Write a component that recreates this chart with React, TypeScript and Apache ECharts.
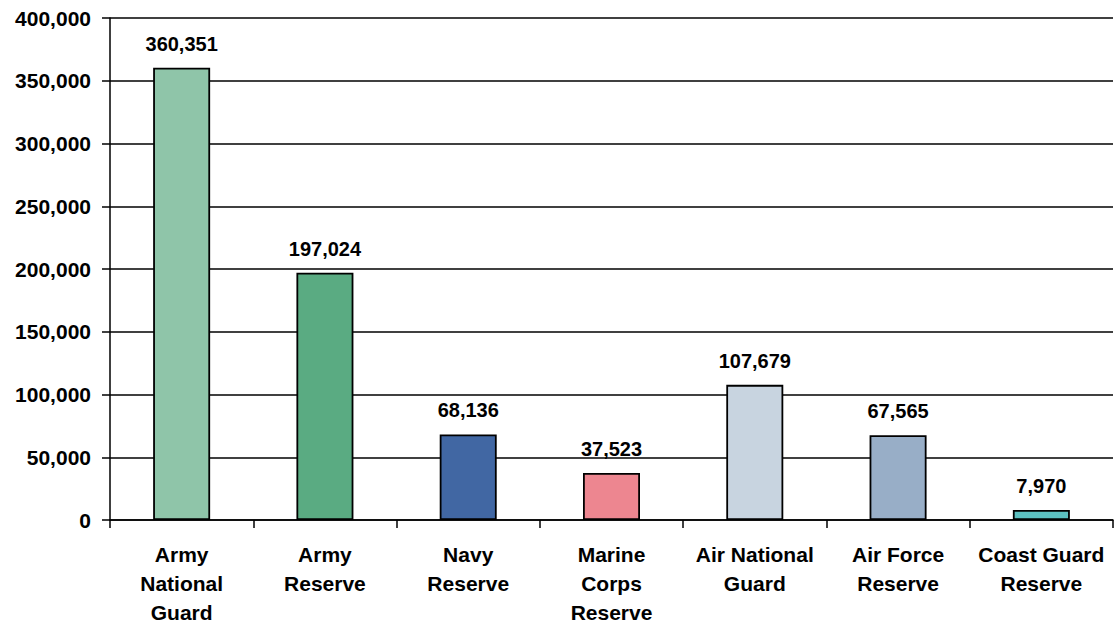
import React, { useEffect, useRef } from "react";
import * as echarts from "echarts";

const categories = [
  "Army\nNational\nGuard",
  "Army\nReserve",
  "Navy\nReserve",
  "Marine\nCorps\nReserve",
  "Air National\nGuard",
  "Air Force\nReserve",
  "Coast Guard\nReserve",
];
const values = [360351, 197024, 68136, 37523, 107679, 67565, 7970];
const colors = ["#8fc5a9", "#5aab82", "#4167a3", "#ed8690", "#c8d4e0", "#98aec7", "#5cc0c0"];
const yTicks = [0, 50000, 100000, 150000, 200000, 250000, 300000, 350000, 400000];

const fmt = (v: number) => v.toLocaleString("en-US");

export default function App() {
  const ref = useRef<HTMLDivElement>(null);
  useEffect(() => {
    if (!ref.current) return;
    const chart = echarts.init(ref.current, null, { renderer: "svg" });
    const font = "Liberation Sans, Arial, sans-serif";
    chart.setOption({
      animation: false,
      backgroundColor: "#ffffff",
      grid: { left: 110, right: 2, top: 18, bottom: 106 },
      xAxis: {
        type: "category",
        data: categories,
        axisLine: { show: true, lineStyle: { color: "#000", width: 1.5 } },
        axisTick: { show: true, alignWithLabel: false, length: 8, lineStyle: { color: "#000", width: 1.5 } },
        axisLabel: {
          interval: 0,
          color: "#000",
          fontFamily: font,
          fontWeight: "bold",
          fontSize: 21,
          lineHeight: 29,
          margin: 20,
        },
        splitLine: { show: false },
      },
      yAxis: {
        type: "value",
        min: yTicks[0],
        max: yTicks[yTicks.length - 1],
        interval: 50000,
        axisLine: { show: true, lineStyle: { color: "#000", width: 1.5 } },
        axisTick: { show: true, inside: false, length: 8, lineStyle: { color: "#000", width: 1.5 } },
        axisLabel: {
          color: "#000",
          fontFamily: font,
          fontWeight: "bold",
          fontSize: 21,
          margin: 19,
          formatter: (v: number) => fmt(v),
        },
        splitLine: { show: true, lineStyle: { color: "#000", width: 1.5 } },
      },
      series: [
        {
          type: "bar",
          barWidth: 57,
          data: values.map((v, i) => ({
            value: v,
            itemStyle: { color: colors[i], borderColor: "#000", borderWidth: 1.8 },
          })),
          label: {
            show: true,
            position: "top",
            distance: 14,
            color: "#000",
            fontFamily: font,
            fontWeight: "bold",
            fontSize: 20,
            formatter: (p: any) => fmt(p.value),
          },
        },
      ],
    });
    return () => chart.dispose();
  }, []);
  return (
    <div
      ref={ref}
      style={{ position: "fixed", left: 0, top: 0, width: 1115, height: 627 }}
    />
  );
}
